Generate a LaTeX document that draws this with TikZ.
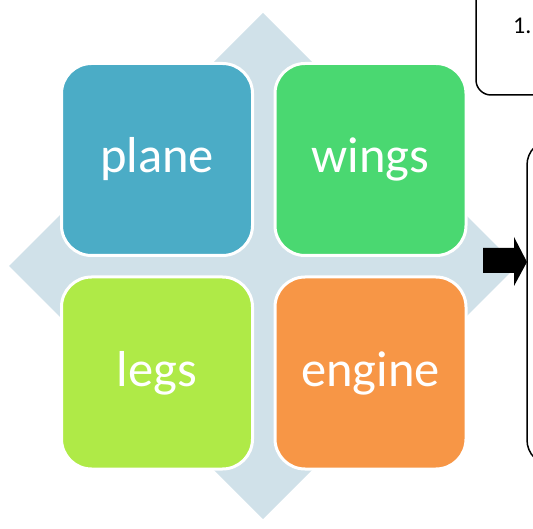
\documentclass[tikz,border=0pt]{standalone}
\usepackage{fontspec}
\setmainfont{Carlito}
\definecolor{diam}{HTML}{D0E1E9}
\definecolor{cplane}{HTML}{4BACC6}
\definecolor{cwings}{HTML}{4AD871}
\definecolor{clegs}{HTML}{AFEA47}
\definecolor{cengine}{HTML}{F79646}
\tikzset{
  quad/.style={draw=white, line width=3pt, rounded corners=30pt, minimum width=191pt, minimum height=192pt, inner sep=0pt, text=white, font=\fontsize{50.5}{52}\selectfont},
  frame/.style={draw=black, line width=1.5pt, fill=white},
}
\begin{document}
\begin{tikzpicture}[x=1pt,y=-1pt]
\useasboundingbox (0,0) rectangle (533,529);
\clip (0,0) rectangle (533,529);
% background diamond
\fill[diam] (263,13) -- (517,266) -- (263,519) -- (9,266) -- cycle;
% four quadrants
\node[quad, fill=cplane] (plane) at (157,159.5) {plane};
\node[quad, fill=cwings] (wings) at (370.5,159.5) {wings};
\node[quad, fill=clegs] (legs) at (157,373) {legs};
\node[quad, fill=cengine] (engine) at (370.5,373) {engine};
% top right box
\draw[frame, rounded corners=15pt] (476,-30) rectangle (600,95);
\node[anchor=base west, inner sep=0pt, font=\fontsize{24}{26}\selectfont] (num) at (513,34) {1.};
% right tall box
\draw[frame, rounded corners=25pt] (527,140) rectangle (640,465);
% block arrow
\fill[black] (483,248) -- (514,248) -- (514,237) -- (527,262) -- (514,286) -- (514,273) -- (483,273) -- cycle;
\end{tikzpicture}
\end{document}
